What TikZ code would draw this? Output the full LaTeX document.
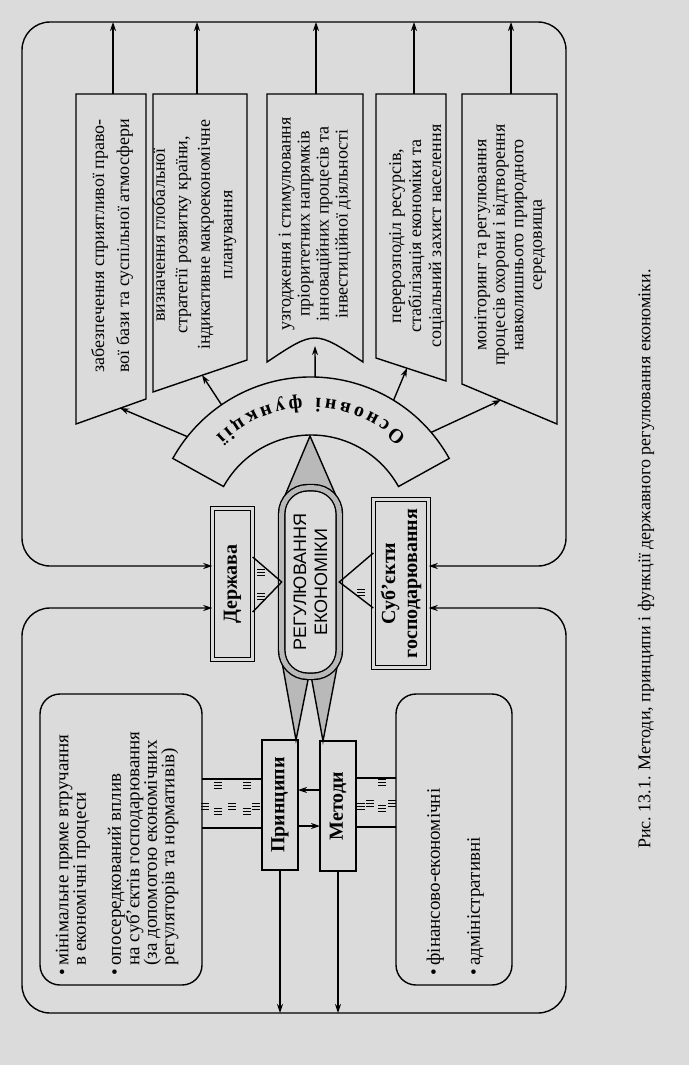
\documentclass[tikz,border=0pt]{standalone}
\usepackage{fontspec}
\setmainfont{Liberation Serif}
\newfontfamily\capsfont{Liberation Sans}
\usetikzlibrary{arrows.meta, calc, decorations.text}

\newcommand\ftxt[1]{\fontsize{18}{#1}\selectfont}
\newcommand\ttl{\fontsize{20}{22}\selectfont\bfseries}
\newcommand\hatch[2]{\foreach \dy in {-3,0,3} {\draw[line width=0.6pt] (#1-4,#2+\dy) -- (#1+4,#2+\dy);}}

\tikzset{
  vtext/.style={rotate=90, align=center, inner sep=0pt, font=\ftxt{19}},
  dbox/.style={rotate=90, draw, double=black!14, double distance=2.6pt, line width=1pt, inner sep=0pt, outer sep=0pt, align=center, font=\ttl},
  tbox/.style={rotate=90, draw, inner sep=0pt, outer sep=0pt, font=\ttl},
  cbox/.style={draw, rounded corners=20, inner sep=0pt, outer sep=0pt},
  capsule/.style={rotate=90, draw, double=gray!55, double distance=5pt, fill=black!14, rounded corners=26, inner sep=0pt, outer sep=0pt, align=center, font=\capsfont\fontsize{18}{21}\selectfont},
  pencil/.style={draw, fill=gray!55}
}

\begin{document}
\begin{tikzpicture}[x=1pt, y=-1pt, >={Stealth[length=9pt, width=6pt]}, line width=1.4pt]
        \useasboundingbox (0,0) rectangle (689,1065);
        \fill[black!14] (0,0) rectangle (689,1065);

        \coordinate (fc) at (311,535);
        \coordinate (top) at (0,22);
        \coordinate (bot) at (0,1013);
        \coordinate (gt) at (0,566);
        \coordinate (gb) at (0,608);

        % Pencil tips round the core
        \draw[pencil] (281,505) -- (310,436) -- (340,505) -- cycle;
        \draw[pencil] (282,662) -- (296,740) -- (310,670) -- cycle;
        \draw[pencil] (310,670) -- (323,741) -- (338,662) -- cycle;

        % Core
        \node[capsule, minimum width=188.6, minimum height=57.6] (reg) at (310.5,582) {РЕГУЛЮВАННЯ\\ЕКОНОМІКИ};

        % Subjects of regulation
        \node[dbox, minimum width=151.4, minimum height=40.4] (derzh) at (232.5,584) {Держава};
        \node[dbox, minimum width=168.4, minimum height=55.4] (subj) at (401,583.5) {Суб’єкти\\господарювання};
        \draw (derzh.south |- 0,557) -- (reg.north) -- (derzh.south |- 0,612);
        \draw (subj.north |- 0,553) -- (reg.south) -- (subj.north |- 0,608);

        % Fan of main functions
        \draw ($(fc)+(-29:158)$) arc[start angle=-29, end angle=-151, radius=158]
              -- ($(fc)+(-151:100)$) arc[start angle=-151, end angle=-29, radius=100] -- cycle;
        \path[decorate, decoration={text along path, text={|\ttl|Основні функції}, text align={fit to path}}]
              ($(fc)+(-46:137)$) arc[start angle=-46, end angle=-134, radius=137];

        % Function boxes
        \draw (76,94) -- (146,94) -- (146,399) -- (76,424) -- cycle;
        \draw (153,94) -- (247,94) -- (247,360) -- (153,392) -- cycle;
        \draw (267,94) -- (363,94) -- (363,362) .. controls (315,330) .. (267,362) -- cycle;
        \draw (376,94) -- (446,94) -- (446,381) -- (376,358) -- cycle;
        \draw (462,94) -- (557,94) -- (557,424) -- (462,384) -- cycle;

        \node[vtext, font=\ftxt{25}] (f1) at (112,246) {забезпечення сприятливої право-\\вої бази та суспільної атмосфери};
        \node[vtext, font=\ftxt{22.5}] (f2) at (194,235) {визначення глобальної\\стратегії розвитку країни,\\індикативне макроекономічне\\планування};
        \node[vtext] (f3) at (315,224) {узгодження і стимулювання\\пріоритетних напрямків\\інноваційних процесів та\\інвестиційної діяльності};
        \node[vtext, font=\ftxt{20}] (f4) at (417,236) {перерозподіл ресурсів,\\стабілізація економіки та\\соціальний захист населення};
        \node[vtext, font=\ftxt{18.5}] (f5) at (510,245) {моніторинг та регулювання\\процесів охорони і відтворення\\навколишнього природного\\середовища};

        % Arrows from the fan to the boxes and from the boxes to the frame
        \foreach \n/\a/\x/\y/\t in {1/141.5/120/408/113, 2/124.5/202/375/197, 3/88.5/315/346/316, 4/58.5/407/368/414, 5/40.5/501/400/511} {
            \coordinate (o\n) at ($(fc)+(-\a:158)$);
            \coordinate (b\n) at (\x,\y);
            \coordinate (t\n) at (\t,94);
            \draw[->] (o\n) -- (b\n);
            \draw[->] (t\n) -- (t\n |- top);
        }

        % Upper and lower frames
        \draw[<->, rounded corners=28] (derzh.north |- gt) -- (22,566) -- (22,22) -- (566,22) -- (566,566) -- (subj.south |- gt);
        \draw[<->, rounded corners=28] (derzh.north |- gb) -- (22,608) -- (22,1013) -- (566,1013) -- (566,608) -- (subj.south |- gb);

        % Principles and methods
        \node[tbox, minimum width=130, minimum height=36] (princ) at (280,805) {Принципи};
        \node[tbox, minimum width=130, minimum height=36] (meth) at (338,806) {Методи};
        \draw[->] (meth.north |- 0,790) -- (princ.south |- 0,790);
        \draw[->] (princ.south |- 0,826) -- (meth.north |- 0,826);
        \draw[->] (princ.west) -- (princ.west |- bot);
        \draw[->] (meth.west) -- (meth.west |- bot);

        \node[cbox, minimum width=162, minimum height=291] (pbox) at (121,839.5) {};
        \node[cbox, minimum width=116, minimum height=291] (mbox) at (454,839.5) {};
        \draw (pbox.east |- 0,779) -- (princ.north |- 0,779) (pbox.east |- 0,828) -- (princ.north |- 0,828);
        \draw (meth.south |- 0,778) -- (mbox.west |- 0,778) (meth.south |- 0,827) -- (mbox.west |- 0,827);

        \node[vtext, align=left, anchor=north west, font=\fontsize{19}{17.5}\selectfont] (plist) at (55,976)
            {•\,мінімальне пряме втручання\\\phantom{•\,}в економічні процеси\\[17.5pt]•\,опосередкований вплив\\\phantom{•\,}на суб’єктів господарювання\\\phantom{•\,}(за допомогою економічних\\\phantom{•\,}регуляторів та нормативів)};
        \node[vtext, align=left, anchor=north west, font=\fontsize{19}{17.5}\selectfont] (mlist) at (426,976)
            {•\,фінансово-економічні\\[22.5pt]•\,адміністративні};

        % Hatch marks on the links
        \foreach \x/\y in {218/785, 247/785, 205/806, 218/811, 232/806, 247/811, 256/806,
                           382/782, 361/806, 370/803, 382/808, 392/803, 261/572, 261/596, 361/592}
            {\hatch{\x}{\y}}

        % Caption
        \node[vtext] (cap) at (646,559) {Рис.~13.1. Методи, принципи і функції державного регулювання економіки.};
\end{tikzpicture}
\end{document}
